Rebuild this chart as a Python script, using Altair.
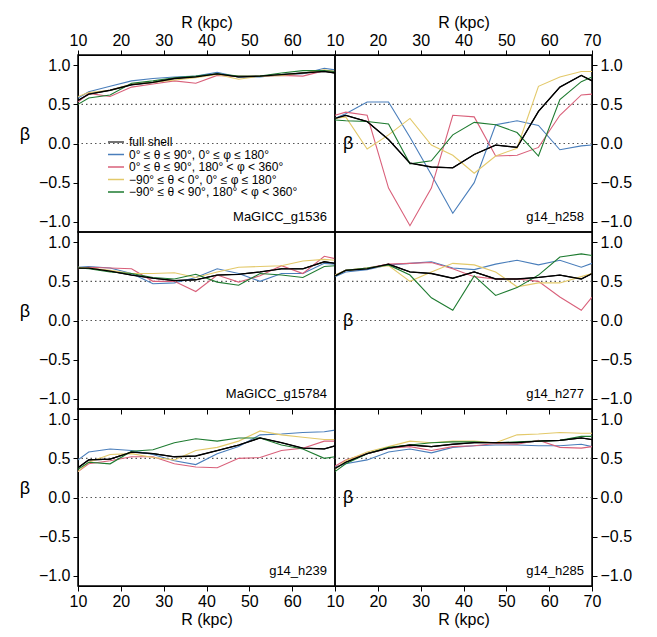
import altair as alt
import pandas as pd

R = [10, 12.5, 17.5, 22.5, 27.5, 32.5, 37.5, 42.5, 47.5, 52.5, 57.5, 62.5, 67.5, 70]
series = ["full shell",
          "0° ≤ θ ≤ 90°, 0° ≤ φ ≤ 180°",
          "0° ≤ θ ≤ 90°, 180° < φ < 360°",
          "−90° ≤ θ < 0°, 0° ≤ φ ≤ 180°",
          "−90° ≤ θ < 90°, 180° < φ < 360°"]
colors = ["#000000", "#4a7ebb", "#d9607a", "#e3c96a", "#1e7b30"]

g1536 = [
    [0.55, 0.63, 0.68, 0.75, 0.78, 0.83, 0.85, 0.89, 0.85, 0.86, 0.88, 0.90, 0.92, 0.90],
    [0.58, 0.66, 0.73, 0.80, 0.83, 0.85, 0.86, 0.91, 0.85, 0.85, 0.88, 0.89, 0.96, 0.94],
    [0.53, 0.64, 0.60, 0.72, 0.76, 0.80, 0.77, 0.87, 0.86, 0.86, 0.87, 0.86, 0.93, 0.92],
    [0.60, 0.65, 0.68, 0.76, 0.78, 0.81, 0.84, 0.88, 0.82, 0.86, 0.87, 0.90, 0.94, 0.92],
    [0.50, 0.58, 0.62, 0.77, 0.80, 0.84, 0.86, 0.89, 0.86, 0.86, 0.90, 0.93, 0.93, 0.92]]
h258 = [
    [0.32, 0.36, 0.28, 0.05, -0.25, -0.30, -0.31, -0.14, -0.02, -0.05, 0.41, 0.72, 0.87, 0.80],
    [0.32, 0.38, 0.53, 0.53, 0.08, -0.40, -0.89, -0.50, 0.24, 0.29, 0.23, -0.08, -0.03, -0.02],
    [0.36, 0.40, 0.36, -0.57, -1.05, -0.57, 0.36, 0.34, -0.16, -0.15, -0.05, 0.36, 0.62, 0.63],
    [0.32, 0.34, -0.07, 0.11, 0.32, -0.02, -0.15, -0.38, -0.16, -0.06, 0.73, 0.85, 0.92, 0.92],
    [0.30, 0.29, 0.28, 0.25, -0.26, -0.22, 0.11, 0.27, 0.24, 0.14, -0.16, 0.56, 0.79, 0.85]]
g15784 = [
    [0.67, 0.67, 0.63, 0.58, 0.54, 0.51, 0.52, 0.58, 0.59, 0.62, 0.66, 0.66, 0.75, 0.73],
    [0.68, 0.69, 0.67, 0.60, 0.47, 0.48, 0.55, 0.66, 0.60, 0.50, 0.60, 0.60, 0.73, 0.72],
    [0.66, 0.68, 0.67, 0.66, 0.50, 0.50, 0.37, 0.58, 0.49, 0.57, 0.70, 0.60, 0.82, 0.79],
    [0.68, 0.67, 0.64, 0.60, 0.60, 0.61, 0.55, 0.62, 0.68, 0.69, 0.70, 0.76, 0.78, 0.77],
    [0.67, 0.66, 0.62, 0.60, 0.55, 0.53, 0.59, 0.49, 0.45, 0.60, 0.58, 0.55, 0.69, 0.70]]
h277 = [
    [0.57, 0.64, 0.66, 0.72, 0.62, 0.60, 0.54, 0.62, 0.53, 0.53, 0.55, 0.58, 0.53, 0.60],
    [0.56, 0.62, 0.65, 0.71, 0.73, 0.75, 0.67, 0.65, 0.72, 0.77, 0.71, 0.77, 0.68, 0.73],
    [0.58, 0.64, 0.67, 0.72, 0.73, 0.74, 0.66, 0.56, 0.53, 0.53, 0.50, 0.30, 0.13, 0.30],
    [0.58, 0.64, 0.67, 0.70, 0.50, 0.62, 0.73, 0.71, 0.62, 0.43, 0.48, 0.48, 0.56, 0.60],
    [0.57, 0.64, 0.67, 0.71, 0.58, 0.29, 0.13, 0.57, 0.32, 0.42, 0.58, 0.81, 0.85, 0.83]]
h239 = [
    [0.38, 0.48, 0.49, 0.58, 0.56, 0.52, 0.53, 0.60, 0.67, 0.76, 0.70, 0.63, 0.62, 0.66],
    [0.48, 0.58, 0.62, 0.60, 0.55, 0.47, 0.42, 0.56, 0.65, 0.80, 0.81, 0.83, 0.84, 0.86],
    [0.33, 0.43, 0.47, 0.52, 0.52, 0.43, 0.39, 0.38, 0.50, 0.51, 0.60, 0.63, 0.72, 0.72],
    [0.33, 0.45, 0.55, 0.56, 0.51, 0.48, 0.60, 0.64, 0.72, 0.85, 0.80, 0.77, 0.74, 0.74],
    [0.36, 0.45, 0.43, 0.59, 0.61, 0.70, 0.75, 0.72, 0.76, 0.76, 0.67, 0.62, 0.50, 0.52]]
h285 = [
    [0.37, 0.45, 0.56, 0.63, 0.67, 0.65, 0.68, 0.70, 0.70, 0.70, 0.72, 0.73, 0.76, 0.74],
    [0.39, 0.43, 0.48, 0.58, 0.62, 0.57, 0.64, 0.66, 0.67, 0.67, 0.66, 0.66, 0.68, 0.65],
    [0.40, 0.48, 0.56, 0.63, 0.65, 0.60, 0.65, 0.66, 0.69, 0.68, 0.73, 0.64, 0.63, 0.65],
    [0.36, 0.47, 0.58, 0.65, 0.72, 0.70, 0.72, 0.72, 0.70, 0.80, 0.81, 0.83, 0.82, 0.82],
    [0.33, 0.43, 0.56, 0.64, 0.67, 0.70, 0.71, 0.71, 0.70, 0.71, 0.72, 0.73, 0.78, 0.78]]

panels = [("MaGICC_g1536", g1536), ("g14_h258", h258),
          ("MaGICC_g15784", g15784), ("g14_h277", h277),
          ("g14_h239", h239), ("g14_h285", h285)]

W, H = 257, 177
FONT = "Liberation Sans"
ydom = [-1.13, 1.13]
yvals = [-1.0, -0.5, 0.0, 0.5, 1.0]


def panel(name, vals, row, col):
    rows = []
    for si, s in enumerate(series):
        for r, v in zip(R, vals[si]):
            rows.append({"R": r, "beta": v, "series": s, "order": si})
    df = pd.DataFrame(rows)

    xvals = list(range(10, 61, 10)) if col == 0 else list(range(10, 71, 10))
    common = dict(values=xvals, tickSize=5, labelFontSize=16, titleFontSize=16,
                  grid=False, labelFlush=False, titlePadding=2, labelPadding=2)
    if row == 0:
        xax = alt.Axis(orient="top", title="R (kpc)", **common)
    elif row == 2:
        xax = alt.Axis(orient="bottom", title="R (kpc)", **common)
    else:
        xax = alt.Axis(orient="bottom", title=None, labels=False, values=xvals,
                       tickSize=5, grid=False)
    if col == 0:
        yax = alt.Axis(orient="left", title="β", titleAngle=0, titleFontSize=18,
                       titlePadding=14, values=yvals, format=".1f", tickSize=5,
                       labelFontSize=16, grid=False, labelFlush=False, labelPadding=3)
    else:
        yax = alt.Axis(orient="right", title=None, values=yvals, format=".1f",
                       tickSize=5, labelFontSize=16, grid=False, labelFlush=False,
                       labelPadding=3)

    x = alt.X("R:Q", scale=alt.Scale(domain=[10, 70], nice=False, zero=False), axis=xax)
    y = alt.Y("beta:Q", scale=alt.Scale(domain=ydom, nice=False, zero=False), axis=yax)

    refs = pd.DataFrame({"v": [0.0, 0.5]})
    ref = alt.Chart(refs).mark_rule(color="#555", strokeDash=[1.5, 3], strokeWidth=1.2).encode(
        y=alt.Y("v:Q", scale=alt.Scale(domain=ydom, nice=False, zero=False)))

    lines = alt.Chart(df).mark_line(strokeWidth=1.1, clip=True).encode(
        x=x, y=y,
        color=alt.Color("series:N", scale=alt.Scale(domain=series, range=colors), legend=None),
        order=alt.Order("order:Q"),
        detail="series:N")
    black = alt.Chart(df[df.order == 0]).mark_line(strokeWidth=1.3, color="black", clip=True).encode(
        x=alt.X("R:Q", scale=alt.Scale(domain=[10, 70], nice=False, zero=False)),
        y=alt.Y("beta:Q", scale=alt.Scale(domain=ydom, nice=False, zero=False)))

    label = alt.Chart(pd.DataFrame({"t": [name]})).mark_text(
        align="right", baseline="bottom", fontSize=13, font=FONT).encode(
        text="t:N", x=alt.value(W - 8), y=alt.value(H - 8))

    layers = [ref, lines, black, label]
    if col == 1:
        layers.append(alt.Chart(pd.DataFrame({"t": ["β"]})).mark_text(
            fontSize=18, font=FONT, align="left").encode(
            text="t:N", x=alt.value(8), y=alt.value(89)))
    if row == 0 and col == 0:
        leg = pd.DataFrame({"s": series, "yy": [87, 99.5, 112, 124.5, 137]})
        for i, s in enumerate(series):
            layers.append(alt.Chart(pd.DataFrame({"s": [s]})).mark_rule(
                strokeWidth=1.5, color="#444" if i == 0 else colors[i]).encode(
                x=alt.value(30), x2=alt.value(46), y=alt.value(87 + 12.5 * i)))
        layers.append(alt.Chart(leg).mark_text(align="left", fontSize=12, font=FONT).encode(
            x=alt.value(51), y=alt.Y("yy:Q", scale=None), text="s:N"))
    return alt.layer(*layers).properties(width=W, height=H)


cells = [panel(*panels[i], i // 2, i % 2) for i in range(6)]
chart = alt.concat(*cells, columns=2, spacing=0, bounds="flush").properties(
    padding={"left": 10, "top": 5, "right": 5, "bottom": 5}).configure_view(
    stroke="black", strokeWidth=1.5).configure_axis(
    domainColor="black", tickColor="black", labelColor="black", titleColor="black",
    labelFont=FONT, titleFont=FONT, titleFontWeight="normal").configure_text(font=FONT)

chart.save("out.html", embed_options={"renderer": "svg", "actions": False})
